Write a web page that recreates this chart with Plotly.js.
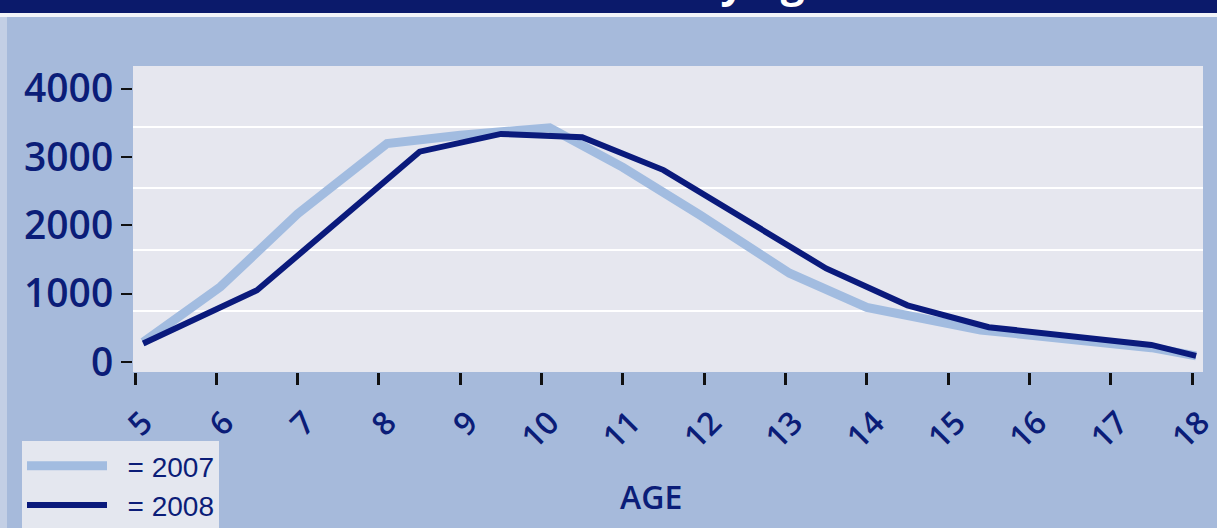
<!DOCTYPE html>
<html>
<head>
<meta charset="utf-8">
<script src="https://cdn.plot.ly/plotly-3.0.1.min.js"></script>
<style>
  html, body { margin: 0; padding: 0; background: #a6badb; }
  #chart { width: 1217px; height: 528px; }
</style>
</head>
<body>
<div id="chart"></div>
<script>
// ---- data ----
const ageTicks = [5, 6, 7, 8, 9, 10, 11, 12, 13, 14, 15, 16, 17, 18];
const ageTickLabels = ["5", "6", "7", "8", "9", "10", "11", "12", "13", "14", "15", "16", "17", "18"];
const countTicks = [0, 1000, 2000, 3000, 4000];

const age2007 = [5.1, 6.05, 7.0, 8.1, 9.0, 10.1, 11.0, 11.95, 13.05, 14.0, 15.4, 16.5, 17.5, 18.05];
const count2007 = [290, 1100, 2170, 3200, 3320, 3430, 2850, 2150, 1300, 800, 470, 340, 210, 90];

const age2008 = [5.1, 6.0, 6.5, 8.5, 9.5, 10.5, 11.5, 13.5, 14.5, 15.5, 16.5, 17.5, 18.05];
const count2008 = [270, 760, 1050, 3080, 3340, 3290, 2810, 1370, 830, 510, 390, 250, 90];

const name2007 = "\u00A0\u00A0= 2007";
const name2008 = "\u00A0\u00A0= 2008";
const axisTitle = "AGE";
const bannerTitle = "by age";

// ---- layout helpers (pixel -> paper) ----
const W = 1217, H = 528;
const M = { l: 133, r: 14, t: 66, b: 156, autoexpand: false };
const PW = W - M.l - M.r, PH = H - M.t - M.b;
const px = x => (x - M.l) / PW;
const py = y => (H - M.b - y) / PH;

const navy = "#0b1d78";

const traces = [
  {
    x: age2007, y: count2007, name: name2007, type: "scatter", mode: "lines",
    line: { color: "#a2bce0", width: 9 }, hoverinfo: "x+y"
  },
  {
    x: age2008, y: count2008, name: name2008, type: "scatter", mode: "lines",
    line: { color: "#0a1a7c", width: 6 }, hoverinfo: "x+y"
  },
  // invisible trace on helper axis so the band grid is drawn
  {
    x: [5], y: [0], yaxis: "y2", type: "scatter", mode: "markers",
    marker: { opacity: 0 }, showlegend: false, hoverinfo: "skip"
  }
];

const layout = {
  width: W, height: H,
  margin: M,
  paper_bgcolor: "#a6badb",
  plot_bgcolor: "#e6e7ef",
  font: { family: "Open Sans, sans-serif", color: navy },
  showlegend: true,
  legend: {
    x: px(22), y: py(441), xanchor: "left", yanchor: "top",
    bgcolor: "#e4e7ef", borderwidth: 0,
    font: { family: "Liberation Sans, Arial, sans-serif", size: 28, color: navy },
    itemwidth: 80
  },
  xaxis: {
    range: [4.975, 18.135],
    tickmode: "array", tickvals: ageTicks, ticktext: ageTickLabels,
    tickangle: -45,
    ticks: "outside", ticklen: 12, tickwidth: 3, tickcolor: "#111111",
    tickfont: { family: "Open Sans, sans-serif", size: 32, weight: 600, color: navy },
    showgrid: false, zeroline: false, showline: false,
    ticklabelshift: 8, ticklabelstandoff: 6,
    ticklabeloverflow: "allow"
  },
  yaxis: {
    range: [-146, 4334],
    tickmode: "array", tickvals: countTicks,
    ticks: "outside", ticklen: 11, tickwidth: 2, tickcolor: "#111111",
    tickfont: { family: "Open Sans, sans-serif", size: 39, weight: 600, color: navy },
    showgrid: false, zeroline: false, showline: false
  },
  yaxis2: {
    overlaying: "y", range: [0, 5], dtick: 1,
    showgrid: true, gridcolor: "#ffffff", gridwidth: 2,
    showticklabels: false, ticks: "", zeroline: false, showline: false
  },
  shapes: [
    // navy banner across the top
    { type: "rect", xref: "paper", yref: "paper", x0: px(0), x1: px(W), y0: py(0), y1: py(13),
      fillcolor: "#0b1a6b", line: { width: 0 }, layer: "below" },
    // white rule below the banner
    { type: "rect", xref: "paper", yref: "paper", x0: px(0), x1: px(W), y0: py(13), y1: py(17),
      fillcolor: "#f2f4f8", line: { width: 0 }, layer: "below" },
    // light strip at the left edge
    { type: "rect", xref: "paper", yref: "paper", x0: px(0), x1: px(7), y0: py(17), y1: py(H),
      fillcolor: "#c3cfe5", line: { width: 0 }, layer: "below" }
  ],
  annotations: [
    { text: axisTitle, xref: "paper", yref: "paper", x: px(651), y: py(497),
      xanchor: "center", yanchor: "middle", showarrow: false,
      font: { family: "Open Sans, sans-serif", size: 32, weight: 600, color: navy } },
    { text: "<b>" + bannerTitle + "</b>", xref: "paper", yref: "paper", x: px(692), y: py(11),
      xanchor: "left", yanchor: "bottom", showarrow: false,
      font: { family: "Open Sans, sans-serif", size: 42, color: "#ffffff" } }
  ]
};

Plotly.newPlot("chart", traces, layout, { staticPlot: true, displayModeBar: false });
</script>
</body>
</html>
